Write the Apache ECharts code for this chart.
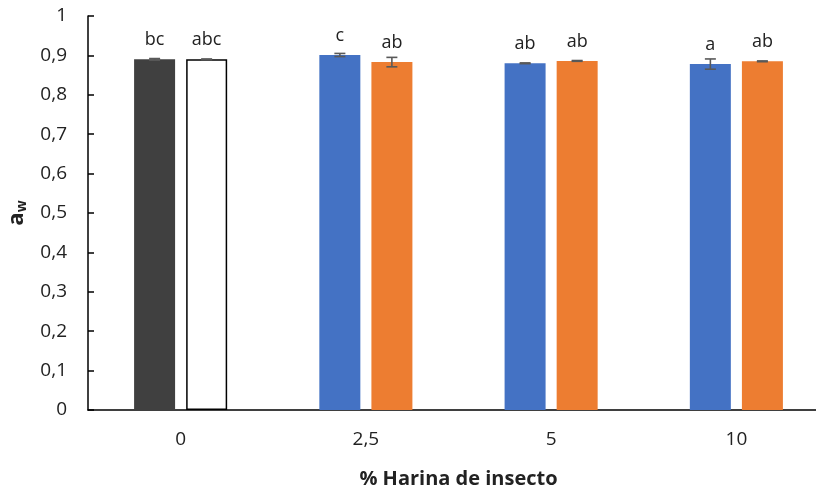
<!DOCTYPE html>
<html>
<head>
<meta charset="utf-8">
<script src="https://cdn.jsdelivr.net/npm/echarts@6/dist/echarts.min.js"></script>
<style>html,body{margin:0;padding:0;background:#fff}#c{width:816px;height:486px}</style>
</head>
<body>
<div id="c"></div>
<script>
var categories = ['0', '2,5', '5', '10'];
var leftValues = [0.890, 0.901, 0.880, 0.878];
var rightValues = [0.890, 0.883, 0.886, 0.885];
var leftErrors = [0.002, 0.004, 0.001, 0.013];
var rightErrors = [0.001, 0.012, 0.001, 0.001];
var leftLetters = ['bc', 'c', 'ab', 'a'];
var rightLetters = ['abc', 'ab', 'ab', 'ab'];
var leftColors = ['#404040', '#4472C4', '#4472C4', '#4472C4'];
var rightColors = ['#FFFFFF', '#ED7D31', '#ED7D31', '#ED7D31'];
var yTicks = [0, 0.1, 0.2, 0.3, 0.4, 0.5, 0.6, 0.7, 0.8, 0.9, 1];

var FONT = '"Open Sans", Lato, sans-serif';
var BAR_W = 41, HALF_OFF = 26;

function barData(values, colors, letters, withBorder) {
  return values.map(function (v, i) {
    var st = { color: colors[i] };
    if (withBorder && colors[i] === '#FFFFFF') { st.borderColor = '#000'; st.borderWidth = 1.5; }
    return { value: v, itemStyle: st, label: { formatter: letters[i] } };
  });
}

function errSeries(values, errors, offset) {
  return {
    type: 'custom',
    z: 5,
    data: values.map(function (v, i) { return [i, v, errors[i]]; }),
    renderItem: function (params, api) {
      var i = api.value(0), v = api.value(1), e = api.value(2);
      var hi = api.coord([i, v + e]);
      var lo = api.coord([i, v - e]);
      var x = hi[0] + offset;
      var style = { stroke: '#595959', lineWidth: 1.6 };
      return {
        type: 'group',
        children: [
          { type: 'line', shape: { x1: x, y1: hi[1], x2: x, y2: lo[1] }, style: style },
          { type: 'line', shape: { x1: x - 5.5, y1: hi[1], x2: x + 5.5, y2: hi[1] }, style: style },
          { type: 'line', shape: { x1: x - 5.5, y1: lo[1], x2: x + 5.5, y2: lo[1] }, style: style }
        ]
      };
    }
  };
}

var chart = echarts.init(document.getElementById('c'));
chart.setOption({
  animation: false,
  textStyle: { fontFamily: FONT },
  grid: { left: 88, top: 16, bottom: 76, width: 741, containLabel: false, outerBoundsMode: 'none' },
  xAxis: {
    type: 'category',
    data: categories,
    axisLine: { lineStyle: { color: '#000', width: 1.5 } },
    axisTick: { show: false },
    axisLabel: { color: '#222', fontSize: 19, margin: 20, fontFamily: FONT },
    name: '% Harina de insecto',
    nameLocation: 'middle',
    nameGap: 59,
    nameTextStyle: { color: '#222', fontSize: 20, fontWeight: 'bold', fontFamily: FONT }
  },
  yAxis: {
    type: 'value',
    min: 0, max: 1, interval: 0.1,
    axisLine: { show: true, lineStyle: { color: '#000', width: 1.5 } },
    axisTick: { show: true, inside: true, length: 6, lineStyle: { color: '#000', width: 1.5 } },
    splitLine: { show: false },
    axisLabel: {
      color: '#222', fontSize: 19, margin: 21, fontFamily: FONT,
      formatter: function (v) {
        var t = yTicks.filter(function (k) { return Math.abs(k - v) < 1e-9; })[0];
        if (t === undefined) t = v;
        if (t === 0 || t === 1) return String(t);
        return t.toFixed(1).replace('.', ',');
      }
    },
    name: '{a|a}{w|w}',
    nameLocation: 'middle',
    nameGap: 60,
    nameRotate: 90,
    nameTextStyle: {
      rich: {
        a: { fontSize: 22, fontWeight: 'bold', color: '#222', fontFamily: FONT, lineHeight: 26, verticalAlign: 'bottom' },
        w: { fontSize: 14, fontWeight: 'bold', color: '#222', fontFamily: FONT, lineHeight: 18, verticalAlign: 'bottom', padding: [0, 0, -1, 0] }
      }
    }
  },
  series: [
    {
      type: 'bar', barWidth: BAR_W, barGap: '27%',
      data: barData(leftValues, leftColors, leftLetters, false),
      label: { show: true, position: 'top', distance: 10, color: '#222', fontSize: 18, fontFamily: FONT }
    },
    {
      type: 'bar', barWidth: BAR_W, barGap: '27%',
      data: barData(rightValues, rightColors, rightLetters, true),
      label: { show: true, position: 'top', distance: 10, color: '#222', fontSize: 18, fontFamily: FONT }
    },
    errSeries(leftValues, leftErrors, -HALF_OFF),
    errSeries(rightValues, rightErrors, HALF_OFF)
  ]
});
</script>
</body>
</html>
